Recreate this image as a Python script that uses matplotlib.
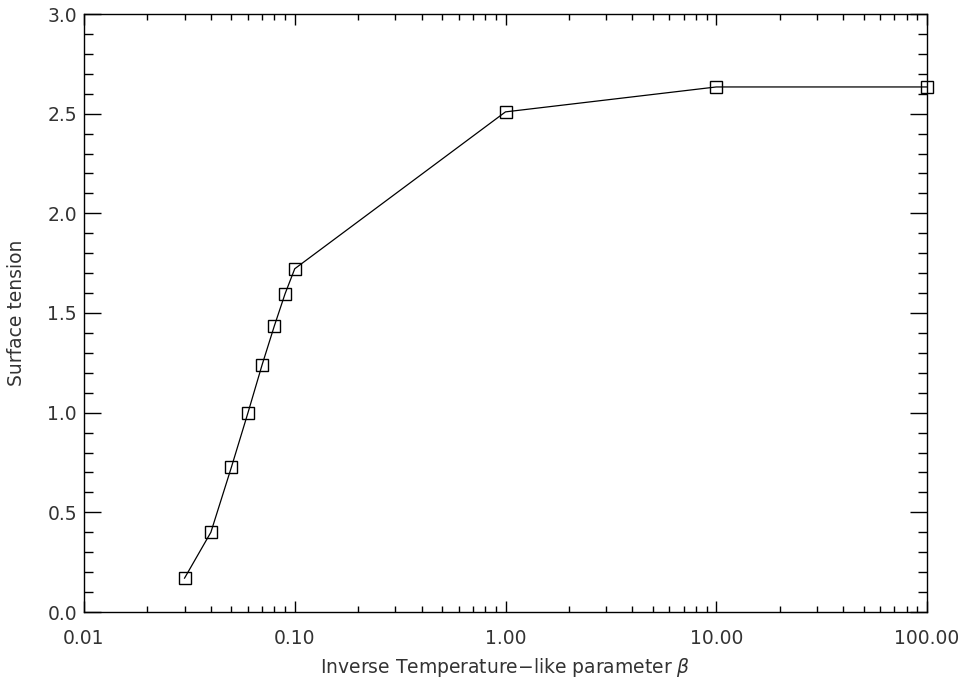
import matplotlib.pyplot as plt
from matplotlib.ticker import LogLocator, FixedLocator, MultipleLocator, NullFormatter

beta = [0.03, 0.04, 0.05, 0.06, 0.07, 0.08, 0.09, 0.10, 1.0, 10.0, 100.0]
tension = [0.17, 0.40, 0.725, 1.00, 1.24, 1.435, 1.597, 1.722, 2.509, 2.634, 2.634]

xticks = [0.01, 0.1, 1, 10, 100]
xtick_labels = ["0.01", "0.10", "1.00", "10.00", "100.00"]

plt.rcParams['font.family'] = 'DejaVu Sans'
txt = '#333333'

fig = plt.figure(figsize=(9.66, 6.79), dpi=100)
ax = fig.add_axes([84 / 966, 67 / 679, 843 / 966, 598 / 679])

ax.plot(beta, tension, color='black', linewidth=0.9,
        marker='s', markersize=9.2, markerfacecolor='none',
        markeredgecolor='black', markeredgewidth=1.0, clip_on=False)

ax.set_xscale('log')
ax.set_xlim(0.01, 100)
ax.set_ylim(0, 3.0)

ax.xaxis.set_major_locator(FixedLocator(xticks))
ax.set_xticklabels(xtick_labels)
ax.xaxis.set_minor_locator(LogLocator(base=10, subs=range(2, 10)))
ax.xaxis.set_minor_formatter(NullFormatter())
ax.yaxis.set_major_locator(MultipleLocator(0.5))
ax.yaxis.set_minor_locator(MultipleLocator(0.1))
ax.yaxis.set_major_formatter(plt.FuncFormatter(lambda v, p: f"{v:.1f}"))

ax.tick_params(axis='both', which='both', direction='in', top=True, right=True,
               colors='black', labelcolor=txt, labelsize=13.5)
ax.tick_params(axis='x', which='major', length=8, width=1, pad=12)
ax.tick_params(axis='x', which='minor', length=4, width=1)
ax.tick_params(axis='y', which='major', length=12.5, width=1, pad=5)
ax.tick_params(axis='y', which='minor', length=6.5, width=1)

for s in ax.spines.values():
    s.set_linewidth(1.0)

ax.set_xlabel(r"Inverse Temperature$-$like parameter $\beta$", fontsize=13.5,
              color=txt)
ax.set_ylabel("Surface tension", fontsize=13.5, color=txt)
ax.xaxis.set_label_coords(0.5, -0.074)
ax.yaxis.set_label_coords(-0.069, 0.5)

fig.savefig("out.png", dpi=100)
